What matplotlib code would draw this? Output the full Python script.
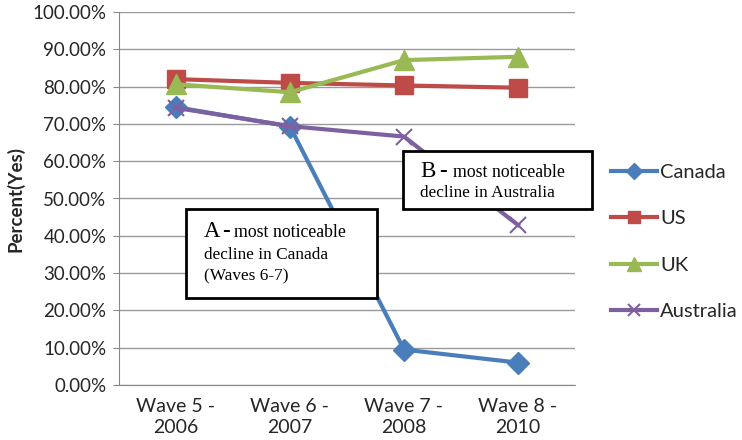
import matplotlib
matplotlib.use("Agg")
import matplotlib.pyplot as plt
from matplotlib.ticker import PercentFormatter

categories = ["Wave 5 -\n2006", "Wave 6 -\n2007", "Wave 7 -\n2008", "Wave 8 -\n2010"]
canada = [74.5, 69.3, 9.5, 6.0]
us = [82.0, 81.0, 80.3, 79.7]
uk = [80.6, 78.5, 87.1, 88.0]
australia = [74.3, 69.4, 66.6, 42.9]
yticks = [0, 10, 20, 30, 40, 50, 60, 70, 80, 90, 100]

sans = ["Lato", "DejaVu Sans"]
serif = ["Liberation Serif", "DejaVu Serif"]
W, H = 742, 440

fig = plt.figure(figsize=(W/100, H/100), dpi=100)
ax = fig.add_axes([119/W, 55/H, (575-119)/W, (385-12)/H])

x = list(range(len(categories)))
series = [
    ("Canada", canada, "#4A7EBB", "D", 11),
    ("US", us, "#BE4B48", "s", 12.5),
    ("UK", uk, "#98B954", "^", 14),
    ("Australia", australia, "#7D60A0", "x", 12),
]
for name, vals, col, mk, ms in series:
    kw = dict(markeredgewidth=1.5) if mk == "x" else dict(markeredgecolor=col)
    ax.plot(x, vals, color=col, linewidth=3, marker=mk, markersize=ms,
            markerfacecolor=col, label=name, zorder=3, **kw)

ax.set_xlim(-0.5, len(categories) - 0.5)
ax.set_ylim(0, 100)
ax.set_yticks(yticks)
ax.yaxis.set_major_formatter(PercentFormatter(decimals=2))
ax.set_xticks(x)
ax.set_xticklabels(categories, fontsize=14, family=sans, color="#262626", linespacing=1.3)
for lab in ax.get_yticklabels():
    lab.set_family(sans)
    lab.set_fontsize(13.5)
    lab.set_color("#262626")
ax.tick_params(axis="x", length=0, pad=9)
ax.tick_params(axis="y", length=4, color="#888888", pad=5)
ax.grid(axis="y", color="#9A9A9A", linewidth=1)
ax.set_axisbelow(True)
for s in ["top", "right"]:
    ax.spines[s].set_visible(False)
ax.spines["left"].set_color("#888888")
ax.spines["bottom"].set_color("#888888")
ax.set_ylabel("Percent(Yes)", fontsize=13.5, fontweight="bold", family=sans,
              labelpad=6, color="#262626")

# annotation box A
boxA = plt.Rectangle((186/W, 1 - 298/H), (377-186)/W, (298-209)/H,
                     transform=fig.transFigure, facecolor="white", edgecolor="black",
                     linewidth=2, zorder=4)
fig.add_artist(boxA)
fig.text(204/W, 1 - 237/H, "A", fontsize=16.5, family=serif, va="baseline", ha="left", zorder=5)
fig.text(222/W, 1 - 237/H, "-", fontsize=16.5, family=serif, fontweight="bold",
         va="baseline", ha="left", zorder=5)
fig.text(234/W, 1 - 237/H, "most noticeable", fontsize=12.8, family=serif,
         va="baseline", ha="left", zorder=5)
fig.text(204/W, 1 - 259/H, "decline in Canada", fontsize=12.4, family=serif,
         va="baseline", ha="left", zorder=5)
fig.text(204/W, 1 - 280/H, "(Waves 6-7)", fontsize=12.4, family=serif,
         va="baseline", ha="left", zorder=5)

# annotation box B
boxB = plt.Rectangle((403/W, 1 - 209/H), (592-403)/W, (209-151)/H,
                     transform=fig.transFigure, facecolor="white", edgecolor="black",
                     linewidth=2, zorder=4)
fig.add_artist(boxB)
fig.text(420/W, 1 - 177/H, "B", fontsize=16.5, family=serif, va="baseline", ha="left", zorder=5)
fig.text(439/W, 1 - 177/H, "-", fontsize=16.5, family=serif, fontweight="bold",
         va="baseline", ha="left", zorder=5)
fig.text(453/W, 1 - 177/H, "most noticeable", fontsize=12.8, family=serif,
         va="baseline", ha="left", zorder=5)
fig.text(420/W, 1 - 197/H, "decline in Australia", fontsize=12.4, family=serif,
         va="baseline", ha="left", zorder=5)

leg = ax.legend(loc="upper left", bbox_to_anchor=(605/W, 1 - 158/H),
                bbox_transform=fig.transFigure, frameon=False,
                prop={"family": sans, "size": 14.5}, handlelength=2.3,
                labelspacing=1.45, handletextpad=0.15, markerscale=0.7,
                borderaxespad=0, borderpad=0.3)
for t in leg.get_texts():
    t.set_color("#262626")

fig.savefig("out.png", dpi=100, facecolor="white")
